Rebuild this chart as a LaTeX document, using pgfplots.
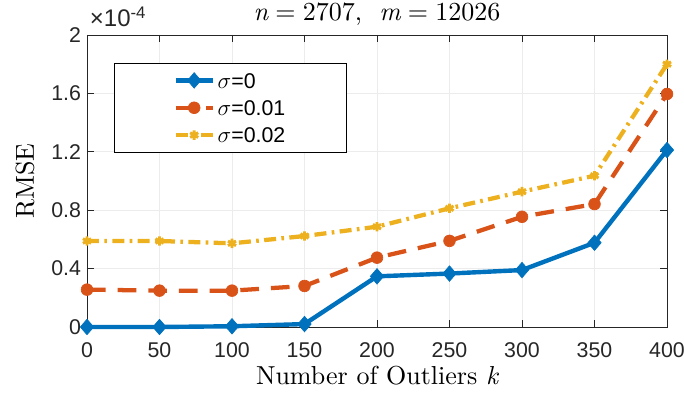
\documentclass[border=0pt]{standalone}
\usepackage{pgfplots}
\pgfplotsset{compat=1.18}
\usepackage{fontspec}
\newfontfamily\arial{Liberation Sans}
\newfontfamily\lmten[Extension=.otf, ItalicFont=lmroman10-italic]{lmroman10-regular}
\definecolor{mblue}{RGB}{0,114,189}
\definecolor{mred}{RGB}{217,83,25}
\definecolor{myellow}{RGB}{237,177,32}
\definecolor{maxis}{RGB}{38,38,38}
\begin{document}
\begin{tikzpicture}
\path[use as bounding box] (-65.25pt,-53.25pt) rectangle (447.75pt,245.25pt);
\begin{axis}[
  at={(0pt,0pt)}, anchor=south west,
  scale only axis,
  width=435pt, height=219pt,
  xmin=0, xmax=400, ymin=0, ymax=2,
  xtick={0,50,...,400},
  ytick={0,0.4,0.8,1.2,1.6,2},
  yticklabels={0,0.4,0.8,1.2,1.6,2},
  /pgf/number format/assume math mode=true,
  ticklabel style={font=\arial\fontsize{16}{18}\selectfont, text=maxis},
  xticklabel style={yshift=-8pt},
  yticklabel style={xshift=-1pt},
  tick align=inside,
  major tick length=5pt,
  axis line style={maxis, line width=0.6pt},
  tick style={maxis, line width=0.6pt},
  grid=major,
  grid style={gray!15, line width=0.5pt},
  xlabel={Number of Outliers {\itshape k}},
  ylabel={RMSE},
  label style={font=\lmten\fontsize{19.5}{21}\selectfont},
  xlabel style={at={(axis description cs:0.5,0)}, anchor=base, yshift=-43.5pt, inner sep=0pt},
  ylabel style={at={(axis description cs:0,0.5)}, anchor=center, yshift=46.5pt, inner sep=0pt},
  clip=false,
  legend style={at={(0.047,0.904)}, anchor=north west, draw=black, line width=0.6pt,
    inner xsep=44pt, inner ysep=5pt, row sep=5pt,
    font=\fontsize{16}{18}\selectfont, cells={anchor=west},
    nodes={text height=11.5pt, text depth=0pt, inner ysep=2pt}},
  legend image code/.code={\draw[mark repeat=2,mark phase=2,#1] plot coordinates {(0pt,0pt) (14pt,0pt) (28pt,0pt)};},
]
\addplot[mblue, line width=3.3pt, mark=diamond*, mark size=5.8pt, mark options={solid, line width=0.5pt, xscale=1.15}]
 coordinates {(0,0) (50,0) (100,0.005) (150,0.02) (200,0.347) (250,0.366) (300,0.39) (350,0.577) (400,1.212)};
\addlegendentry{$\sigma${\arial=0}}
\addplot[mred, line width=3.2pt, dash pattern=on 14pt off 9pt, mark=*, mark size=4.4pt, mark options={solid, line width=0.5pt}]
 coordinates {(0,0.256) (50,0.249) (100,0.249) (150,0.281) (200,0.475) (250,0.59) (300,0.755) (350,0.842) (400,1.596)};
\addlegendentry{$\sigma${\arial=0.01}}
\addplot[myellow, line width=3.2pt, dash pattern=on 9pt off 4pt on 2pt off 4pt, mark=asterisk, mark size=3.5pt, mark options={solid, line width=2.2pt}]
 coordinates {(0,0.589) (50,0.589) (100,0.573) (150,0.623) (200,0.687) (250,0.813) (300,0.927) (350,1.036) (400,1.80)};
\addlegendentry{$\sigma${\arial=0.02}}
\node[anchor=base west, font=\arial\fontsize{18}{20}\selectfont, text=maxis, inner sep=0pt, xshift=2pt, yshift=6pt] at (rel axis cs:0,1) {×10\textsuperscript{-4}};
\node[anchor=base, font=\lmten\fontsize{19.5}{21}\selectfont, inner sep=0pt, yshift=10.5pt] at (rel axis cs:0.5,1) {{\itshape n}\;=\;2707,\ \ {\itshape m}\;=\;12026};
\end{axis}
\end{tikzpicture}
\end{document}
